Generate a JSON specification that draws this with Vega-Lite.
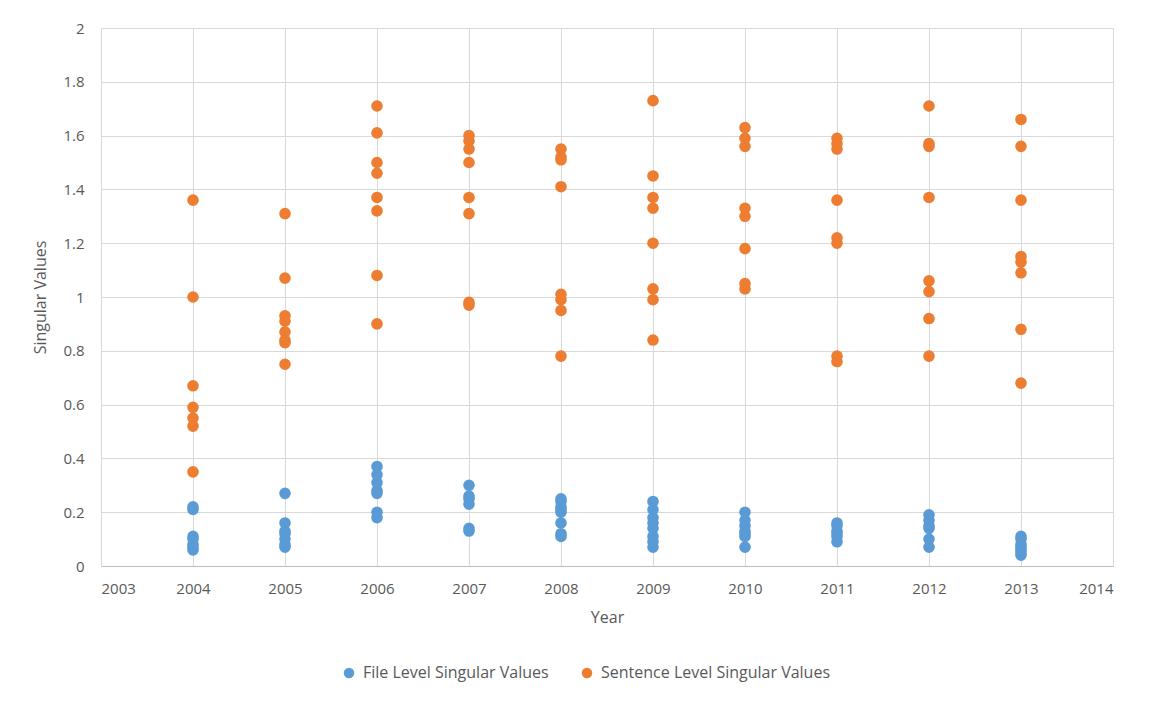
{
  "$schema": "https://vega.github.io/schema/vega-lite/v6.json",
  "autosize": {"type": "none"},
  "padding": {"left": 101, "top": 28, "right": 38, "bottom": 135},
  "width": 1012,
  "height": 538,
  "background": "white",
  "config": {
    "font": "Open Sans",
    "view": {"stroke": null},
    "axis": {"labelColor": "#595959", "titleColor": "#595959", "labelFontSize": 15, "titleFontSize": 16, "titleFontWeight": "normal", "gridColor": "#d9d9d9", "ticks": false},
    "legend": {"labelColor": "#595959", "labelFontSize": 16, "labelLimit": 500}
  },
  "data": {
    "values": [
      {"year": 2004, "series": "File Level Singular Values", "value": 0.22},
      {"year": 2004, "series": "File Level Singular Values", "value": 0.21},
      {"year": 2004, "series": "File Level Singular Values", "value": 0.11},
      {"year": 2004, "series": "File Level Singular Values", "value": 0.10},
      {"year": 2004, "series": "File Level Singular Values", "value": 0.08},
      {"year": 2004, "series": "File Level Singular Values", "value": 0.07},
      {"year": 2004, "series": "File Level Singular Values", "value": 0.06},
      {"year": 2005, "series": "File Level Singular Values", "value": 0.27},
      {"year": 2005, "series": "File Level Singular Values", "value": 0.16},
      {"year": 2005, "series": "File Level Singular Values", "value": 0.13},
      {"year": 2005, "series": "File Level Singular Values", "value": 0.12},
      {"year": 2005, "series": "File Level Singular Values", "value": 0.10},
      {"year": 2005, "series": "File Level Singular Values", "value": 0.08},
      {"year": 2005, "series": "File Level Singular Values", "value": 0.07},
      {"year": 2006, "series": "File Level Singular Values", "value": 0.37},
      {"year": 2006, "series": "File Level Singular Values", "value": 0.34},
      {"year": 2006, "series": "File Level Singular Values", "value": 0.31},
      {"year": 2006, "series": "File Level Singular Values", "value": 0.28},
      {"year": 2006, "series": "File Level Singular Values", "value": 0.27},
      {"year": 2006, "series": "File Level Singular Values", "value": 0.20},
      {"year": 2006, "series": "File Level Singular Values", "value": 0.18},
      {"year": 2007, "series": "File Level Singular Values", "value": 0.30},
      {"year": 2007, "series": "File Level Singular Values", "value": 0.26},
      {"year": 2007, "series": "File Level Singular Values", "value": 0.25},
      {"year": 2007, "series": "File Level Singular Values", "value": 0.23},
      {"year": 2007, "series": "File Level Singular Values", "value": 0.14},
      {"year": 2007, "series": "File Level Singular Values", "value": 0.13},
      {"year": 2008, "series": "File Level Singular Values", "value": 0.25},
      {"year": 2008, "series": "File Level Singular Values", "value": 0.24},
      {"year": 2008, "series": "File Level Singular Values", "value": 0.22},
      {"year": 2008, "series": "File Level Singular Values", "value": 0.21},
      {"year": 2008, "series": "File Level Singular Values", "value": 0.20},
      {"year": 2008, "series": "File Level Singular Values", "value": 0.16},
      {"year": 2008, "series": "File Level Singular Values", "value": 0.12},
      {"year": 2008, "series": "File Level Singular Values", "value": 0.11},
      {"year": 2009, "series": "File Level Singular Values", "value": 0.24},
      {"year": 2009, "series": "File Level Singular Values", "value": 0.21},
      {"year": 2009, "series": "File Level Singular Values", "value": 0.18},
      {"year": 2009, "series": "File Level Singular Values", "value": 0.16},
      {"year": 2009, "series": "File Level Singular Values", "value": 0.14},
      {"year": 2009, "series": "File Level Singular Values", "value": 0.11},
      {"year": 2009, "series": "File Level Singular Values", "value": 0.09},
      {"year": 2009, "series": "File Level Singular Values", "value": 0.07},
      {"year": 2010, "series": "File Level Singular Values", "value": 0.20},
      {"year": 2010, "series": "File Level Singular Values", "value": 0.17},
      {"year": 2010, "series": "File Level Singular Values", "value": 0.15},
      {"year": 2010, "series": "File Level Singular Values", "value": 0.13},
      {"year": 2010, "series": "File Level Singular Values", "value": 0.12},
      {"year": 2010, "series": "File Level Singular Values", "value": 0.11},
      {"year": 2010, "series": "File Level Singular Values", "value": 0.07},
      {"year": 2011, "series": "File Level Singular Values", "value": 0.16},
      {"year": 2011, "series": "File Level Singular Values", "value": 0.15},
      {"year": 2011, "series": "File Level Singular Values", "value": 0.13},
      {"year": 2011, "series": "File Level Singular Values", "value": 0.12},
      {"year": 2011, "series": "File Level Singular Values", "value": 0.11},
      {"year": 2011, "series": "File Level Singular Values", "value": 0.09},
      {"year": 2012, "series": "File Level Singular Values", "value": 0.19},
      {"year": 2012, "series": "File Level Singular Values", "value": 0.17},
      {"year": 2012, "series": "File Level Singular Values", "value": 0.15},
      {"year": 2012, "series": "File Level Singular Values", "value": 0.14},
      {"year": 2012, "series": "File Level Singular Values", "value": 0.10},
      {"year": 2012, "series": "File Level Singular Values", "value": 0.07},
      {"year": 2013, "series": "File Level Singular Values", "value": 0.11},
      {"year": 2013, "series": "File Level Singular Values", "value": 0.10},
      {"year": 2013, "series": "File Level Singular Values", "value": 0.08},
      {"year": 2013, "series": "File Level Singular Values", "value": 0.07},
      {"year": 2013, "series": "File Level Singular Values", "value": 0.06},
      {"year": 2013, "series": "File Level Singular Values", "value": 0.05},
      {"year": 2013, "series": "File Level Singular Values", "value": 0.04},
      {"year": 2004, "series": "Sentence Level Singular Values", "value": 1.36},
      {"year": 2004, "series": "Sentence Level Singular Values", "value": 1.00},
      {"year": 2004, "series": "Sentence Level Singular Values", "value": 0.67},
      {"year": 2004, "series": "Sentence Level Singular Values", "value": 0.59},
      {"year": 2004, "series": "Sentence Level Singular Values", "value": 0.55},
      {"year": 2004, "series": "Sentence Level Singular Values", "value": 0.52},
      {"year": 2004, "series": "Sentence Level Singular Values", "value": 0.35},
      {"year": 2005, "series": "Sentence Level Singular Values", "value": 1.31},
      {"year": 2005, "series": "Sentence Level Singular Values", "value": 1.07},
      {"year": 2005, "series": "Sentence Level Singular Values", "value": 0.93},
      {"year": 2005, "series": "Sentence Level Singular Values", "value": 0.91},
      {"year": 2005, "series": "Sentence Level Singular Values", "value": 0.87},
      {"year": 2005, "series": "Sentence Level Singular Values", "value": 0.84},
      {"year": 2005, "series": "Sentence Level Singular Values", "value": 0.83},
      {"year": 2005, "series": "Sentence Level Singular Values", "value": 0.75},
      {"year": 2006, "series": "Sentence Level Singular Values", "value": 1.71},
      {"year": 2006, "series": "Sentence Level Singular Values", "value": 1.61},
      {"year": 2006, "series": "Sentence Level Singular Values", "value": 1.50},
      {"year": 2006, "series": "Sentence Level Singular Values", "value": 1.46},
      {"year": 2006, "series": "Sentence Level Singular Values", "value": 1.37},
      {"year": 2006, "series": "Sentence Level Singular Values", "value": 1.32},
      {"year": 2006, "series": "Sentence Level Singular Values", "value": 1.08},
      {"year": 2006, "series": "Sentence Level Singular Values", "value": 0.90},
      {"year": 2007, "series": "Sentence Level Singular Values", "value": 1.60},
      {"year": 2007, "series": "Sentence Level Singular Values", "value": 1.58},
      {"year": 2007, "series": "Sentence Level Singular Values", "value": 1.55},
      {"year": 2007, "series": "Sentence Level Singular Values", "value": 1.50},
      {"year": 2007, "series": "Sentence Level Singular Values", "value": 1.37},
      {"year": 2007, "series": "Sentence Level Singular Values", "value": 1.31},
      {"year": 2007, "series": "Sentence Level Singular Values", "value": 0.98},
      {"year": 2007, "series": "Sentence Level Singular Values", "value": 0.97},
      {"year": 2008, "series": "Sentence Level Singular Values", "value": 1.55},
      {"year": 2008, "series": "Sentence Level Singular Values", "value": 1.52},
      {"year": 2008, "series": "Sentence Level Singular Values", "value": 1.51},
      {"year": 2008, "series": "Sentence Level Singular Values", "value": 1.41},
      {"year": 2008, "series": "Sentence Level Singular Values", "value": 1.01},
      {"year": 2008, "series": "Sentence Level Singular Values", "value": 0.99},
      {"year": 2008, "series": "Sentence Level Singular Values", "value": 0.95},
      {"year": 2008, "series": "Sentence Level Singular Values", "value": 0.78},
      {"year": 2009, "series": "Sentence Level Singular Values", "value": 1.73},
      {"year": 2009, "series": "Sentence Level Singular Values", "value": 1.45},
      {"year": 2009, "series": "Sentence Level Singular Values", "value": 1.37},
      {"year": 2009, "series": "Sentence Level Singular Values", "value": 1.33},
      {"year": 2009, "series": "Sentence Level Singular Values", "value": 1.20},
      {"year": 2009, "series": "Sentence Level Singular Values", "value": 1.03},
      {"year": 2009, "series": "Sentence Level Singular Values", "value": 0.99},
      {"year": 2009, "series": "Sentence Level Singular Values", "value": 0.84},
      {"year": 2010, "series": "Sentence Level Singular Values", "value": 1.63},
      {"year": 2010, "series": "Sentence Level Singular Values", "value": 1.59},
      {"year": 2010, "series": "Sentence Level Singular Values", "value": 1.56},
      {"year": 2010, "series": "Sentence Level Singular Values", "value": 1.33},
      {"year": 2010, "series": "Sentence Level Singular Values", "value": 1.30},
      {"year": 2010, "series": "Sentence Level Singular Values", "value": 1.18},
      {"year": 2010, "series": "Sentence Level Singular Values", "value": 1.05},
      {"year": 2010, "series": "Sentence Level Singular Values", "value": 1.03},
      {"year": 2011, "series": "Sentence Level Singular Values", "value": 1.59},
      {"year": 2011, "series": "Sentence Level Singular Values", "value": 1.57},
      {"year": 2011, "series": "Sentence Level Singular Values", "value": 1.55},
      {"year": 2011, "series": "Sentence Level Singular Values", "value": 1.36},
      {"year": 2011, "series": "Sentence Level Singular Values", "value": 1.22},
      {"year": 2011, "series": "Sentence Level Singular Values", "value": 1.20},
      {"year": 2011, "series": "Sentence Level Singular Values", "value": 0.78},
      {"year": 2011, "series": "Sentence Level Singular Values", "value": 0.76},
      {"year": 2012, "series": "Sentence Level Singular Values", "value": 1.71},
      {"year": 2012, "series": "Sentence Level Singular Values", "value": 1.57},
      {"year": 2012, "series": "Sentence Level Singular Values", "value": 1.56},
      {"year": 2012, "series": "Sentence Level Singular Values", "value": 1.37},
      {"year": 2012, "series": "Sentence Level Singular Values", "value": 1.06},
      {"year": 2012, "series": "Sentence Level Singular Values", "value": 1.02},
      {"year": 2012, "series": "Sentence Level Singular Values", "value": 0.92},
      {"year": 2012, "series": "Sentence Level Singular Values", "value": 0.78},
      {"year": 2013, "series": "Sentence Level Singular Values", "value": 1.66},
      {"year": 2013, "series": "Sentence Level Singular Values", "value": 1.56},
      {"year": 2013, "series": "Sentence Level Singular Values", "value": 1.36},
      {"year": 2013, "series": "Sentence Level Singular Values", "value": 1.15},
      {"year": 2013, "series": "Sentence Level Singular Values", "value": 1.13},
      {"year": 2013, "series": "Sentence Level Singular Values", "value": 1.09},
      {"year": 2013, "series": "Sentence Level Singular Values", "value": 0.88},
      {"year": 2013, "series": "Sentence Level Singular Values", "value": 0.68}
    ]
  },
  "mark": {"type": "point", "filled": true, "opacity": 1, "size": 135},
  "encoding": {
    "x": {
      "field": "year", "type": "quantitative", "title": "Year",
      "scale": {"domain": [2003, 2014], "nice": false, "zero": false},
      "axis": {"values": [2003, 2004, 2005, 2006, 2007, 2008, 2009, 2010, 2011, 2012, 2013, 2014], "format": "d", "labelPadding": 15, "titlePadding": 13, "domainColor": "#bfbfbf", "grid": true}
    },
    "y": {
      "field": "value", "type": "quantitative", "title": "Singular Values",
      "scale": {"domain": [0, 2], "nice": false},
      "axis": {"values": [0, 0.2, 0.4, 0.6, 0.8, 1, 1.2, 1.4, 1.6, 1.8, 2], "format": "~g", "labelPadding": 17, "titlePadding": 14, "domain": false, "grid": true}
    },
    "color": {
      "field": "series", "type": "nominal",
      "scale": {"domain": ["File Level Singular Values", "Sentence Level Singular Values"], "range": ["#5B9BD5", "#ED7D31"]},
      "legend": {"title": null, "orient": "none", "direction": "horizontal", "legendX": 240, "legendY": 637, "symbolType": "circle", "symbolSize": 110, "columnPadding": 30, "labelOffset": 6}
    }
  }
}
